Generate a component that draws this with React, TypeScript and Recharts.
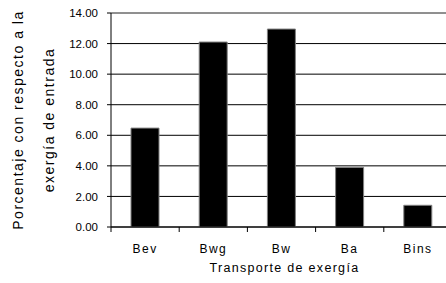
import { Bar, BarChart, CartesianGrid, ReferenceLine, XAxis, YAxis } from "recharts"

const categories = ["Bev", "Bwg", "Bw", "Ba", "Bins"]
const values = [6.47, 12.1, 12.95, 3.9, 1.42]
const yTicks = [0, 2, 4, 6, 8, 10, 12, 14]

const yTitle = ["Porcentaje con respecto a la", "exergía de entrada"]
const xTitle = "Transporte de exergía"

const data = categories.map((name, i) => ({ name, value: values[i] }))

const FONT = "'Liberation Sans', Arial, sans-serif"

// category label + boundary tick mark at the left edge of each band
function CategoryTick(props: {
  x?: number
  y?: number
  payload?: { value: string; offset?: number }
}) {
  const { x = 0, y = 0, payload } = props
  if (!payload) return null
  const half = payload.offset ?? 34
  return (
    <g>
      <line x1={x - half} x2={x - half} y1={y} y2={y + 5} stroke="#000" />
      <text
        x={x}
        y={y + 26}
        textAnchor="middle"
        fill="#000"
        fontSize={12}
        letterSpacing={1.5}
        fontFamily={FONT}
      >
        {payload.value}
      </text>
    </g>
  )
}

function YTitle(props: { viewBox?: { x: number; y: number; width: number; height: number } }) {
  const vb = props.viewBox
  if (!vb) return null
  const cy = vb.y + vb.height / 2
  const xs = [vb.x + 18, vb.x + 49]
  return (
    <g>
      {yTitle.map((line, i) => (
        <text
          key={i}
          x={xs[i]}
          y={cy}
          transform={`rotate(-90, ${xs[i]}, ${cy})`}
          textAnchor="middle"
          dominantBaseline="central"
          fill="#000"
          fontSize={14}
          letterSpacing={1.5}
          fontFamily={FONT}
        >
          {line}
        </text>
      ))}
    </g>
  )
}

function XTitle(props: { viewBox?: { x: number; y: number; width: number; height: number } }) {
  const vb = props.viewBox
  if (!vb) return null
  return (
    <text
      x={vb.x + vb.width / 2 + 3}
      y={vb.y + 45}
      textAnchor="middle"
      fill="#000"
      fontSize={12.5}
      letterSpacing={1.3}
      fontFamily={FONT}
    >
      {xTitle}
    </text>
  )
}

export default function App() {
  return (
    <div style={{ position: "absolute", left: 0, top: 0, width: 446, height: 283, overflow: "hidden", background: "#fff" }}>
      <style>{`body{margin:0}`}</style>
      <BarChart
        width={452}
        height={283}
        data={data}
        margin={{ top: 13, right: 0, bottom: 0, left: 0 }}
        barSize={28}
      >
        <CartesianGrid vertical={false} stroke="#000" />
        <ReferenceLine y={14} stroke="#a0a0a0" />
        <XAxis
          dataKey="name"
          height={56}
          axisLine={{ stroke: "#000" }}
          tickLine={false}
          tickSize={0}
          tickMargin={0}
          tick={<CategoryTick />}
          interval={0}
          label={<XTitle />}
        />
        <YAxis
          width={111}
          domain={[0, 14]}
          ticks={yTicks}
          interval={0}
          tickFormatter={(v: number) => v.toFixed(2)}
          axisLine={{ stroke: "#000" }}
          tickLine={{ stroke: "#000" }}
          tickSize={4}
          tickMargin={9}
          tick={{ fill: "#000", fontSize: 11.5, fontFamily: FONT }}
          label={<YTitle />}
        />
        <Bar dataKey="value" fill="#000" stroke="#808080" strokeWidth={1} isAnimationActive={false} />
      </BarChart>
    </div>
  )
}
